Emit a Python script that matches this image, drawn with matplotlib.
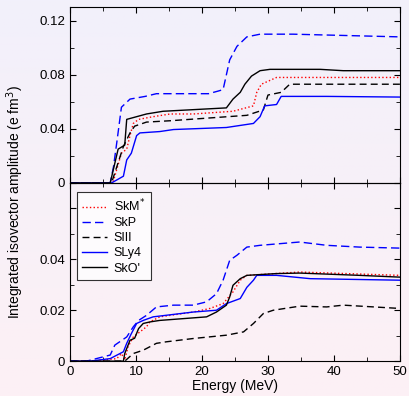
import matplotlib
matplotlib.use("Agg")
import numpy as np
import matplotlib.pyplot as plt
from matplotlib.ticker import MultipleLocator

plt.rcParams['font.family'] = ['Liberation Sans', 'DejaVu Sans']

# top panel data
skm_top_e = [0, 6.5, 7.8, 8.6, 9.1, 9.6, 10.4, 12.6, 15.2, 18.7, 24.7, 27.8, 28.3, 29.0, 31.3, 50]
skm_top_v = [0, 0, 0.022, 0.025, 0.035, 0.044, 0.047, 0.049, 0.051, 0.051, 0.053, 0.057, 0.067, 0.073, 0.078, 0.078]
skp_top_e = [0, 6.1, 6.6, 7.1, 7.8, 9.1, 11.4, 13.1, 21.0, 22.5, 23.2, 24.2, 25.3, 26.8, 28.8, 33.8, 50]
skp_top_v = [0, 0, 0.012, 0.030, 0.056, 0.062, 0.064, 0.066, 0.066, 0.068, 0.069, 0.091, 0.101, 0.108, 0.110, 0.110, 0.108]
siii_top_e = [0, 6.3, 8.1, 9.1, 9.8, 11.6, 15.2, 26.8, 29.3, 30.0, 32.0, 33.3, 50]
siii_top_v = [0, 0, 0.027, 0.037, 0.042, 0.045, 0.046, 0.050, 0.054, 0.065, 0.067, 0.073, 0.073]
sly4_top_e = [0, 6.3, 8.1, 8.6, 9.3, 10.1, 10.6, 13.6, 15.7, 23.7, 27.8, 28.8, 29.5, 31.3, 32.0, 38.9, 50]
sly4_top_v = [0, 0, 0.005, 0.017, 0.022, 0.035, 0.037, 0.038, 0.0395, 0.041, 0.044, 0.049, 0.057, 0.058, 0.064, 0.064, 0.0635]
sko_top_e = [0, 6.1, 7.3, 8.3, 8.6, 10.1, 11.6, 14.1, 23.7, 24.7, 25.8, 26.5, 27.5, 28.8, 30.3, 37.9, 41.4, 50]
sko_top_v = [0, 0, 0.025, 0.028, 0.047, 0.049, 0.051, 0.053, 0.0555, 0.062, 0.067, 0.073, 0.079, 0.083, 0.084, 0.084, 0.083, 0.083]

# bottom panel data
skm_bot_e = [0, 3.5, 7.1, 7.8, 8.3, 8.8, 9.6, 10.6, 11.6, 12.1, 13.6, 18.7, 21.2, 23.2, 24.7, 25.8, 26.8, 34.8, 50]
skm_bot_v = [0, 0, 0.001, 0.003, 0.0005, 0.0056, 0.0095, 0.0115, 0.0135, 0.0154, 0.0174, 0.0193, 0.0207, 0.0226, 0.0272, 0.0318, 0.0337, 0.035, 0.0337]
skp_bot_e = [0, 2.5, 6.1, 6.8, 8.6, 9.6, 10.4, 11.6, 13.1, 15.7, 18.7, 20.7, 22.2, 23.2, 24.2, 25.3, 26.8, 28.8, 34.8, 38.9, 43.9, 50]
skp_bot_v = [0, 0, 0.0024, 0.0063, 0.0095, 0.0135, 0.016, 0.018, 0.0213, 0.022, 0.022, 0.0233, 0.0265, 0.0318, 0.0396, 0.0416, 0.0448, 0.0455, 0.0468, 0.0455, 0.0448, 0.0444]
siii_bot_e = [0, 8.3, 9.6, 11.1, 13.1, 14.6, 18.7, 23.7, 26.3, 27.8, 29.3, 30.8, 34.8, 38.9, 41.4, 50]
siii_bot_v = [0, 0, 0.003, 0.0043, 0.007, 0.0076, 0.0089, 0.0102, 0.0115, 0.0148, 0.0187, 0.020, 0.0216, 0.0213, 0.022, 0.0207]
sly4_bot_e = [0, 3.0, 6.1, 8.1, 8.6, 9.3, 10.1, 11.1, 12.6, 18.7, 22.2, 23.7, 25.8, 26.8, 27.8, 28.3, 31.3, 36.4, 50]
sly4_bot_v = [0, 0, 0.001, 0.0037, 0.007, 0.0108, 0.0148, 0.016, 0.0174, 0.0193, 0.020, 0.0226, 0.0246, 0.029, 0.0318, 0.0337, 0.0337, 0.0324, 0.0318]
sko_bot_e = [0, 8.1, 8.3, 9.1, 9.8, 10.4, 11.1, 12.1, 13.6, 20.7, 22.2, 23.7, 24.2, 24.7, 25.8, 26.8, 31.3, 34.8, 43.9, 50]
sko_bot_v = [0, 0, 0.003, 0.0082, 0.009, 0.0128, 0.0148, 0.0154, 0.016, 0.0174, 0.0193, 0.022, 0.0252, 0.0298, 0.0324, 0.0337, 0.0344, 0.0346, 0.0337, 0.033]

labels = ["SkM$^{*}$", "SkP", "SIII", "SLy4", "SkO'"]
styles = [dict(color='#ff0000', ls=':', lw=1.0),
          dict(color='#0000ff', ls=(0, (6, 3)), lw=1.0),
          dict(color='black', ls=(0, (5, 3)), lw=1.0),
          dict(color='#0000ff', ls='-', lw=1.0),
          dict(color='black', ls='-', lw=1.0)]

fig = plt.figure(figsize=(4.09, 3.96), dpi=100)

# lavender-to-pink background gradient
bgax = fig.add_axes([0, 0, 1, 1], zorder=-10)
top_c = np.array([242, 240, 251]) / 255
bot_c = np.array([253, 240, 245]) / 255
t = np.linspace(0, 1, 256)[:, None, None]
grad = top_c * (1 - t) + bot_c * t
bgax.imshow(np.repeat(grad, 2, axis=1), aspect='auto', extent=[0, 1, 0, 1])
bgax.axis('off')

ax1 = fig.add_axes([0.171, 0.538, 0.807, 0.444])
ax2 = fig.add_axes([0.171, 0.088, 0.807, 0.450])

top = [(skm_top_e, skm_top_v), (skp_top_e, skp_top_v), (siii_top_e, siii_top_v),
       (sly4_top_e, sly4_top_v), (sko_top_e, sko_top_v)]
bot = [(skm_bot_e, skm_bot_v), (skp_bot_e, skp_bot_v), (siii_bot_e, siii_bot_v),
       (sly4_bot_e, sly4_bot_v), (sko_bot_e, sko_bot_v)]

for (e, v), st in zip(top, styles):
    ax1.plot(e, v, **st)
for (e, v), st, lab in zip(bot, styles, labels):
    ax2.plot(e, v, label=lab, **st)

for ax in (ax1, ax2):
    ax.set_facecolor('none')
    ax.set_xlim(0, 50)
    ax.xaxis.set_major_locator(MultipleLocator(10))
    ax.xaxis.set_minor_locator(MultipleLocator(5))
    ax.tick_params(which='both', direction='in', top=True, right=True, labelsize=9.5)
    ax.tick_params(which='major', length=4)
    ax.tick_params(which='minor', length=3)

ax1.set_ylim(0, 0.13)
ax1.set_yticks([0, 0.04, 0.08, 0.12])
ax1.set_yticklabels(['0', '0.04', '0.08', '0.12'])
ax1.yaxis.set_minor_locator(MultipleLocator(0.02))
ax1.tick_params(labelbottom=False)

ax2.set_ylim(0, 0.07)
ax2.set_yticks([0, 0.02, 0.04, 0.06])
ax2.set_yticklabels(['0', '0.02', '0.04', ''])
ax2.yaxis.set_minor_locator(MultipleLocator(0.01))
ax2.set_xticks([0, 10, 20, 30, 40, 50])
ax2.set_xlabel("Energy (MeV)", fontsize=10, labelpad=1)

leg = ax2.legend(loc='upper left', bbox_to_anchor=(0.021, 0.95), borderaxespad=0,
                 fontsize=9, frameon=True, fancybox=False, handlelength=2.0,
                 handletextpad=0.5, labelspacing=0.25, borderpad=0.45)
leg.get_frame().set_edgecolor('black')
leg.get_frame().set_facecolor('white')
leg.get_frame().set_linewidth(0.8)

fig.text(0.037, 0.49, "Integrated isovector amplitude (e fm$^3$)", rotation=90,
         ha='center', va='center', fontsize=10)

fig.savefig("out.png", dpi=100)
